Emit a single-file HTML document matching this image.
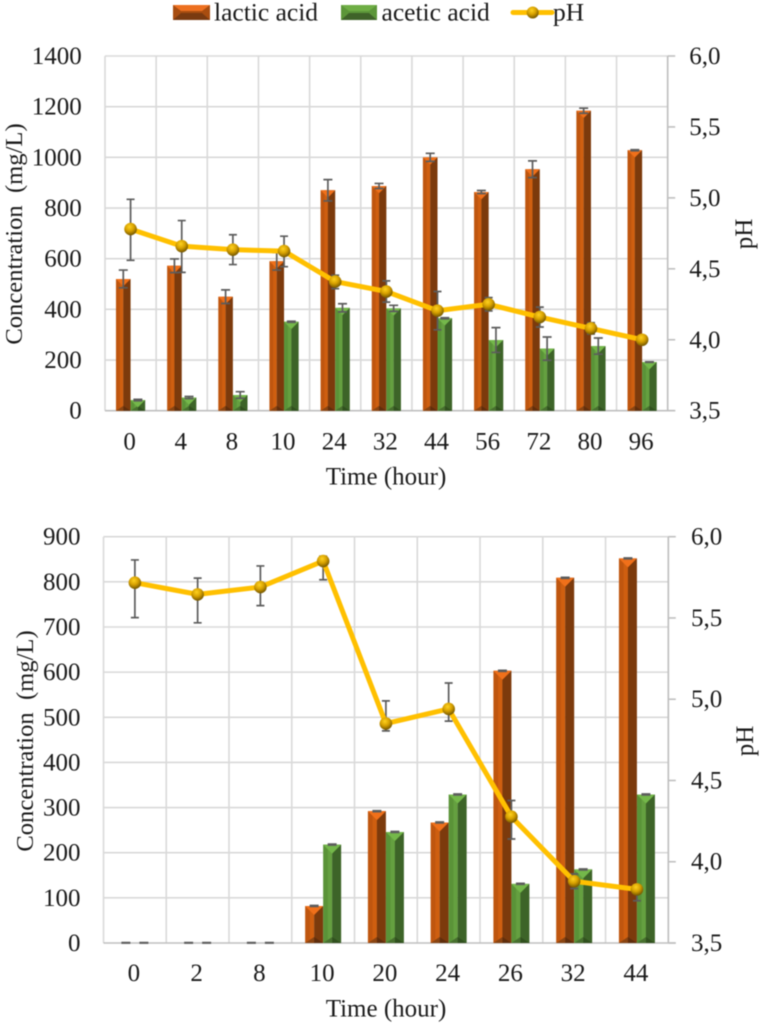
<!DOCTYPE html>
<html lang="en">
<head>
<meta charset="utf-8">
<title>Lactic acid, acetic acid and pH over time</title>
<style>
  html, body { margin: 0; padding: 0; background: #fff; }
  body { width: 761px; height: 1025px; overflow: hidden; }
  svg { display: block; filter: blur(0.45px); }
  text { font-family: "Liberation Serif", serif; fill: #1a1a1a; white-space: pre; }
</style>
</head>
<body>
<svg id="figure" xmlns="http://www.w3.org/2000/svg" width="761" height="1025" viewBox="0 0 761 1025">
  <defs>
    <radialGradient id="sphere" cx="42%" cy="32%" r="70%">
      <stop offset="0" stop-color="#ffd21f"/>
      <stop offset="0.5" stop-color="#d6a000"/>
      <stop offset="1" stop-color="#6e5200"/>
    </radialGradient>
  </defs>
  <g>
    <g>
      <rect x="173" y="5" width="37" height="15" fill="#a84d10"/>
      <polygon points="173,5 210,5 202,11 181,11" fill="#ed7020"/>
      <polygon points="173,20 210,20 202,13 181,13" fill="#7a3a10"/>
      <text x="214" y="20.5" font-size="25.5">lactic acid</text>
    </g>
    <g>
      <rect x="341" y="5" width="36" height="15" fill="#5c9639"/>
      <polygon points="341,5 377,5 369,11 349,11" fill="#6fae45"/>
      <polygon points="341,20 377,20 369,13 349,13" fill="#3f6329"/>
      <text x="381.5" y="20.5" font-size="25.5">acetic acid</text>
    </g>
    <g>
      <line x1="513" y1="12.5" x2="552" y2="12.5" stroke="#ffc000" stroke-width="5" stroke-linecap="round"/>
      <circle cx="532.7" cy="12.5" r="6" fill="url(#sphere)"/>
      <text x="553" y="20.5" font-size="25.5">pH</text>
    </g>
  </g>
</svg>
<script>
// ---- Chart 1 data ----
const chart1Categories = ['0','4','8','10','24','32','44','56','72','80','96'];
const chart1Lactic = [520,572,450,590,870,887,1000,863,953,1184,1028];
const chart1LacticErr = [35,27,27,35,42,10,16,6,33,10,2];
const chart1Acetic = [42,52,62,351,406,404,365,279,245,255,192];
const chart1AceticErr = [3,4,13,2,16,12,2,49,46,32,1];
const chart1Ph = [4.78,4.66,4.635,4.625,4.41,4.34,4.205,4.25,4.16,4.08,4.0];
const chart1PhErrPlus = [0.21,0.18,0.105,0.105,0.045,0.075,0.135,0.047,0.07,0.04,0];
const chart1PhErrMinus = [0.22,0.185,0.105,0.11,0.05,0.075,0.135,0.047,0.07,0.04,0];
const chart1ConcTicks = [0,200,400,600,800,1000,1200,1400];
const chart1PhTicks = ['3,5','4,0','4,5','5,0','5,5','6,0'];

// ---- Chart 2 data ----
const chart2Categories = ['0','2','8','10','20','24','26','32','44'];
const chart2Lactic = [0,0,0,82,292,267,603,809,852];
const chart2LacticErr = [1,1,1,1,1,1,1,1,1];
const chart2Acetic = [0,0,0,218,246,329,131,163,329];
const chart2AceticErr = [1,1,1,1,1,1,1,1,1];
const chart2Ph = [5.717,5.645,5.69,5.85,4.85,4.94,4.277,3.88,3.83];
const chart2PhErrPlus = [0.14,0.10,0.13,0.03,0.14,0.16,0.10,0.045,0.02];
const chart2PhErrMinus = [0.215,0.175,0.114,0.115,0.045,0.075,0.137,0.045,0.07];
const chart2ConcTicks = [0,100,200,300,400,500,600,700,800,900];
const chart2PhTicks = ['3,5','4,0','4,5','5,0','5,5','6,0'];

const SVG_NS = 'http://www.w3.org/2000/svg';
const root = document.getElementById('figure');

function mk(parent, tag, attrs, text) {
  const node = document.createElementNS(SVG_NS, tag);
  for (const k in attrs) node.setAttribute(k, attrs[k]);
  if (text !== undefined) node.textContent = text;
  parent.appendChild(node);
  return node;
}

function drawBar(parent, name, cx, w, yTop, yBase, colors) {
  const g = mk(parent, 'g', {});
  
  
  if (yBase - yTop < 0.5) return;
  const l = cx - w / 2, r = cx + w / 2;
  const top = Math.min(w / 2, yBase - yTop);
  const bot = Math.min(w / 3, (yBase - yTop) / 2);
  const shapes = [
    [[[l, yTop], [cx, yTop], [cx, yBase], [l, yBase]], colors.left, 'face-left'],
    [[[l + w * 0.26, yTop], [cx, yTop], [cx, yBase], [l + w * 0.26, yBase]], colors.strip, 'face-highlight'],
    [[[cx, yTop], [r, yTop], [r, yBase], [cx, yBase]], colors.right, 'face-right'],
    [[[l, yBase], [cx, yBase], [cx, yBase - bot]], colors.bottomLeft, 'bevel-bottom-left'],
    [[[cx, yBase], [r, yBase], [cx, yBase - bot]], colors.bottomRight, 'bevel-bottom-right'],
    [[[l, yTop], [r, yTop], [cx, yTop + top]], colors.top, 'bevel-top']
  ];
  shapes.forEach(function (s) {
    const poly = mk(g, 'polygon', {
      points: s[0].map(function (p) { return p[0].toFixed(2) + ',' + p[1].toFixed(2); }).join(' '),
      fill: s[1]
    });
    
    
  });
}

function drawErr(parent, name, x, yHi, yLo, capHalf) {
  const g = mk(parent, 'g', { stroke: '#5c5c5c', 'stroke-width': 1.7, fill: 'none' });
  
  
  mk(g, 'path', {
    d: 'M' + (x - capHalf) + ' ' + yHi + 'H' + (x + capHalf) +
       'M' + x + ' ' + yHi + 'V' + yLo +
       'M' + (x - capHalf) + ' ' + yLo + 'H' + (x + capHalf)
  });
}

function drawChart(c) {
  const n = c.categories.length;
  const band = (c.right - c.left) / n;
  const xCat = function (i) { return c.left + band * (i + 0.5); };
  const concMax = c.concTicks[c.concTicks.length - 1];
  const yConc = function (v) { return c.bottom - (v / concMax) * (c.bottom - c.top); };
  const phMin = parseFloat(c.phTicks[0].replace(',', '.'));
  const phMax = parseFloat(c.phTicks[c.phTicks.length - 1].replace(',', '.'));
  const yPh = function (v) { return c.bottom - ((v - phMin) / (phMax - phMin)) * (c.bottom - c.top); };

  const chart = mk(root, 'g', {});
  
  

  // gridlines
  const grid = mk(chart, 'g', { stroke: '#d9d9d9', 'stroke-width': 1.6 });
  
  
  c.concTicks.forEach(function (t) {
    if (t === 0) return;
    mk(grid, 'line', { x1: c.left, x2: c.right, y1: yConc(t), y2: yConc(t) });
  });
  for (let i = 0; i <= n; i++) {
    mk(grid, 'line', { x1: c.left + band * i, x2: c.left + band * i, y1: c.top, y2: c.bottom });
  }

  // axes
  const axes = mk(chart, 'g', { stroke: '#bfbfbf', 'stroke-width': 1.6 });
  
  
  mk(axes, 'line', { x1: c.left, x2: c.right + c.tick, y1: c.bottom, y2: c.bottom });
  mk(axes, 'line', { x1: c.right, x2: c.right, y1: c.top, y2: c.bottom });
  c.phTicks.forEach(function (t) {
    const y = yPh(parseFloat(t.replace(',', '.')));
    mk(axes, 'line', { x1: c.right, x2: c.right + c.tick, y1: y, y2: y });
  });

  // bars
  const lacticColors = { left: '#bf560f', strip: '#cf5f10', right: '#7c3a0c', top: '#f0701a', bottomLeft: '#8a4512', bottomRight: '#5f2e0c' };
  const aceticColors = { left: '#5a9338', strip: '#65a040', right: '#3d6428', top: '#74b84a', bottomLeft: '#48702f', bottomRight: '#30501e' };
  c.categories.forEach(function (cat, i) {
    const lx = xCat(i) - c.barW / 2, ax = xCat(i) + c.barW / 2;
    drawBar(chart, 'bar-lactic-' + cat, lx, c.barW, yConc(c.lactic[i]), c.bottom, lacticColors);
    drawBar(chart, 'bar-acetic-' + cat, ax, c.barW, yConc(c.acetic[i]), c.bottom, aceticColors);
  });
  c.categories.forEach(function (cat, i) {
    const lx = xCat(i) - c.barW / 2, ax = xCat(i) + c.barW / 2;
    drawErr(chart, 'error-lactic-' + cat, lx, yConc(c.lactic[i] + c.lacticErr[i]), yConc(Math.max(0, c.lactic[i] - c.lacticErr[i])), 4.5);
    drawErr(chart, 'error-acetic-' + cat, ax, yConc(c.acetic[i] + c.aceticErr[i]), yConc(Math.max(0, c.acetic[i] - c.aceticErr[i])), 4.5);
  });

  // pH series
  c.categories.forEach(function (cat, i) {
    drawErr(chart, 'error-ph-' + cat, xCat(i), yPh(c.ph[i] + c.phErrPlus[i]), yPh(c.ph[i] - c.phErrMinus[i]), 4);
  });
  const line = mk(chart, 'polyline', {
    points: c.ph.map(function (v, i) { return xCat(i).toFixed(2) + ',' + yPh(v).toFixed(2); }).join(' '),
    fill: 'none', stroke: '#ffc000', 'stroke-width': 5, 'stroke-linejoin': 'round', 'stroke-linecap': 'round'
  });
  
  
  c.ph.forEach(function (v, i) {
    const dot = mk(chart, 'circle', { cx: xCat(i), cy: yPh(v), r: 6.3, fill: 'url(#sphere)' });
    
    
  });

  // left tick labels
  c.concTicks.forEach(function (t) {
    const el = mk(chart, 'text', { x: c.leftLabelX, y: yConc(t) + 8, 'font-size': 25, 'text-anchor': 'end' }, String(t));
    
    
  });
  // right tick labels
  c.phTicks.forEach(function (t) {
    const el = mk(chart, 'text', { x: c.rightLabelX, y: yPh(parseFloat(t.replace(',', '.'))) + 8, 'font-size': 25 }, t);
    
    
  });
  // x tick labels
  c.categories.forEach(function (cat, i) {
    const el = mk(chart, 'text', { x: xCat(i) - 1, y: c.xLabelY, 'font-size': 25, 'text-anchor': 'middle' }, cat);
    
    
  });
  // axis titles
  const xTitle = mk(chart, 'text', { x: 386, y: c.xTitleY, 'font-size': 25, 'text-anchor': 'middle' }, 'Time (hour)');
  
  
  const yTitle = mk(chart, 'text', {
    transform: 'translate(' + c.yTitleX + ' ' + c.yTitleCy + ') rotate(-90)',
    'font-size': 24.6, 'text-anchor': 'middle'
  }, 'Concentration  (mg/L)');
  
  
  const phTitle = mk(chart, 'text', {
    transform: 'translate(' + c.phTitleX + ' ' + c.yTitleCy + ') rotate(-90)',
    'font-size': 25, 'text-anchor': 'middle'
  }, 'pH');
  
  
}

drawChart({
  name: 'chart-time-96h',
  categories: chart1Categories, lactic: chart1Lactic, lacticErr: chart1LacticErr,
  acetic: chart1Acetic, aceticErr: chart1AceticErr, ph: chart1Ph,
  phErrPlus: chart1PhErrPlus, phErrMinus: chart1PhErrMinus,
  concTicks: chart1ConcTicks, phTicks: chart1PhTicks,
  left: 105, right: 667.7, top: 56, bottom: 410.7, tick: 7.5, barW: 14.6,
  leftLabelX: 81.7, rightLabelX: 689.3, xLabelY: 449.5, xTitleY: 484.5,
  yTitleX: 22, yTitleCy: 234, phTitleX: 752
});

drawChart({
  name: 'chart-time-44h',
  categories: chart2Categories, lactic: chart2Lactic, lacticErr: chart2LacticErr,
  acetic: chart2Acetic, aceticErr: chart2AceticErr, ph: chart2Ph,
  phErrPlus: chart2PhErrPlus, phErrMinus: chart2PhErrMinus,
  concTicks: chart2ConcTicks, phTicks: chart2PhTicks,
  left: 103.5, right: 668.3, top: 536.7, bottom: 943, tick: 7.5, barW: 18,
  leftLabelX: 80.5, rightLabelX: 691, xLabelY: 981, xTitleY: 1016.5,
  yTitleX: 33, yTitleCy: 741, phTitleX: 753
});
</script>
</body>
</html>
